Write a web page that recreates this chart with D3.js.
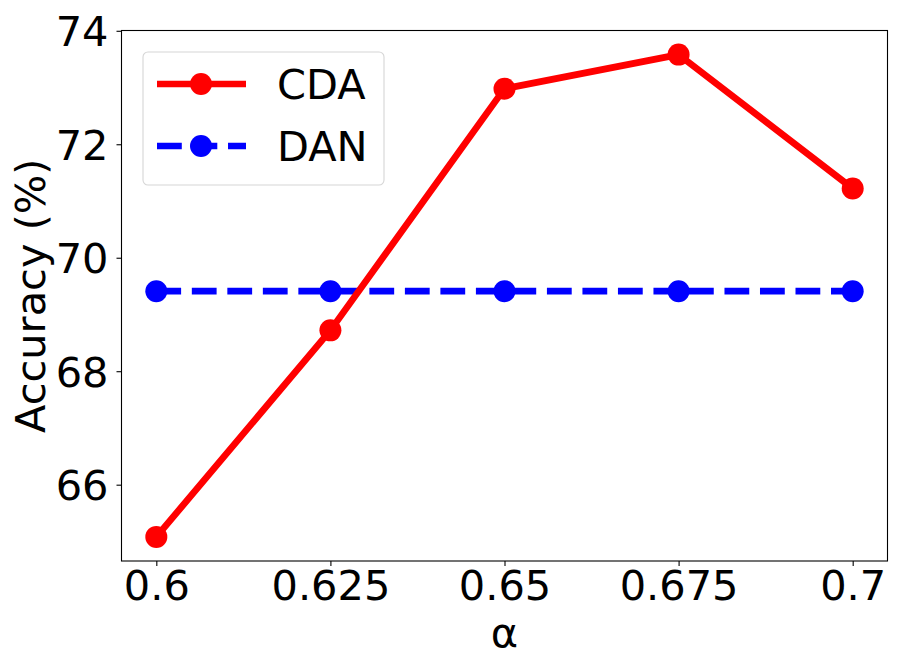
<!DOCTYPE html>
<html>
<head>
<meta charset="utf-8">
<script src="https://cdn.jsdelivr.net/npm/d3@7"></script>
<style>
  body { margin: 0; background: #fff; }
  text { font-family: "DejaVu Sans", sans-serif; fill: #000; }
</style>
</head>
<body>
<div id="chart"></div>
<script>
// Data
const alphas = [0.6, 0.625, 0.65, 0.675, 0.7];
const alphaLabels = ["0.6", "0.625", "0.65", "0.675", "0.7"];
const cdaValues = [65.08, 68.72, 72.98, 73.58, 71.22];
const danValues = [69.41, 69.41, 69.41, 69.41, 69.41];
const yTicks = [66, 68, 70, 72, 74];

const width = 900, height = 660;
const margins = { top: 30.5, right: 12.5, bottom: 99, left: 121.5 };
const innerW = width - margins.left - margins.right;
const innerH = height - margins.top - margins.bottom;

const svg = d3.select("#chart").append("svg")
    .attr("width", width)
    .attr("height", height);

const plot = svg.append("g")
    .attr("transform", `translate(${margins.left},${margins.top})`);

// matplotlib style 5% padding around data
const xScale = d3.scaleLinear()
    .domain([0.595, 0.705])
    .range([0, innerW]);

const yMin = d3.min(cdaValues.concat(danValues));
const yMax = d3.max(cdaValues.concat(danValues));
const yPad = (yMax - yMin) * 0.05;
const yScale = d3.scaleLinear()
    .domain([yMin - yPad, yMax + yPad])
    .range([innerH, 0]);

const fontSize = 41.5;
const lw = 6.7;

// Axes
const xAxis = d3.axisBottom(xScale)
    .tickValues(alphas)
    .tickFormat((d, i) => alphaLabels[i])
    .tickSize(5);
const gx = plot.append("g")
    .attr("transform", `translate(0,${innerH})`)
    .call(xAxis);
gx.select(".domain").remove();
gx.selectAll("line").attr("stroke", "#000").attr("stroke-width", 1.1);
gx.selectAll("text")
    .style("font-size", fontSize + "px")
    .attr("y", 39)
    .attr("dy", 0);

const yAxis = d3.axisLeft(yScale)
    .tickValues(yTicks)
    .tickSize(5)
    .tickPadding(8);
const gy = plot.append("g").call(yAxis);
gy.select(".domain").remove();
gy.selectAll("line").attr("stroke", "#000").attr("stroke-width", 1.1);
gy.selectAll("text").style("font-size", fontSize + "px").attr("dy", "0.36em");

// Lines
const line = d3.line()
    .x((d, i) => xScale(alphas[i]))
    .y(d => yScale(d));

plot.append("path")
    .datum(danValues)
    .attr("d", line)
    .attr("fill", "none")
    .attr("stroke", "#0000ff")
    .attr("stroke-width", lw)
    .attr("stroke-dasharray", `${3.7 * lw},${1.6 * lw}`);

plot.append("path")
    .datum(cdaValues)
    .attr("d", line)
    .attr("fill", "none")
    .attr("stroke", "#ff0000")
    .attr("stroke-width", lw)
    .attr("stroke-linejoin", "round");

plot.selectAll(".dan-dot")
    .data(danValues)
    .enter().append("circle")
    .attr("cx", (d, i) => xScale(alphas[i]))
    .attr("cy", d => yScale(d))
    .attr("r", 11)
    .attr("fill", "#0000ff");

plot.selectAll(".cda-dot")
    .data(cdaValues)
    .enter().append("circle")
    .attr("cx", (d, i) => xScale(alphas[i]))
    .attr("cy", d => yScale(d))
    .attr("r", 11)
    .attr("fill", "#ff0000");

// Frame
plot.append("rect")
    .attr("width", innerW)
    .attr("height", innerH)
    .attr("fill", "none")
    .attr("stroke", "#000")
    .attr("stroke-width", 1.1);

// Axis labels
svg.append("text")
    .attr("transform", `translate(45, ${margins.top + innerH / 2}) rotate(-90)`)
    .attr("text-anchor", "middle")
    .style("font-size", fontSize + "px")
    .text("Accuracy (%)");

svg.append("text")
    .attr("x", margins.left + innerW / 2)
    .attr("y", 647)
    .attr("text-anchor", "middle")
    .style("font-size", fontSize + "px")
    .text("α");

// Legend
const legendItems = [
    { name: "CDA", color: "#ff0000", dash: null },
    { name: "DAN", color: "#0000ff", dash: `${3.7 * lw},${1.6 * lw}` }
];
const legend = svg.append("g").attr("transform", "translate(143,52)");
legend.append("rect")
    .attr("width", 241)
    .attr("height", 133)
    .attr("rx", 5)
    .attr("fill", "#fff")
    .attr("fill-opacity", 0.8)
    .attr("stroke", "#d6d6d6")
    .attr("stroke-width", 1.1);

const items = legend.selectAll(".legend-item")
    .data(legendItems)
    .enter().append("g")
    .attr("transform", (d, i) => `translate(0, ${32 + i * 62})`);

items.append("line")
    .attr("x1", 14)
    .attr("x2", 103)
    .attr("stroke", d => d.color)
    .attr("stroke-width", lw)
    .attr("stroke-dasharray", d => d.dash);

items.append("circle")
    .attr("cx", 58)
    .attr("r", 11)
    .attr("fill", d => d.color);

items.append("text")
    .attr("x", 134)
    .attr("dy", "0.36em")
    .style("font-size", fontSize + "px")
    .text(d => d.name);
</script>
</body>
</html>
